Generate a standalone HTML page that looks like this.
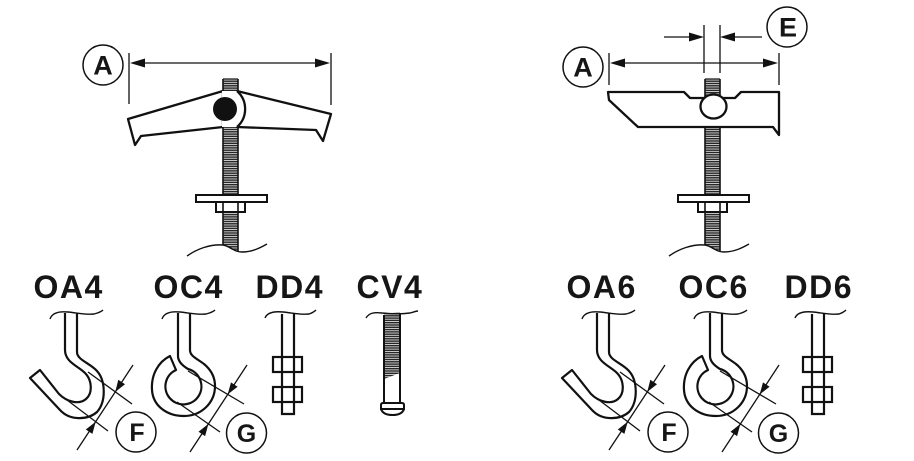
<!DOCTYPE html>
<html>
<head>
<meta charset="utf-8">
<style>
  html, body { margin:0; padding:0; background:#fff; }
  body { width:914px; height:461px; overflow:hidden; }
  svg { display:block; }
  .lbl { font-family:"Liberation Sans", Arial, sans-serif; font-weight:bold; font-size:32px; fill:#161616; letter-spacing:1.5px; }
  .cl { font-family:"Liberation Sans", Arial, sans-serif; font-weight:bold; font-size:27px; fill:#161616; }
  .cs { font-family:"Liberation Sans", Arial, sans-serif; font-weight:bold; font-size:25px; fill:#161616; }
</style>
</head>
<body>
<svg width="914" height="461" viewBox="0 0 914 461" xmlns="http://www.w3.org/2000/svg">
  <defs>
    <pattern id="th" width="6" height="2.3" patternUnits="userSpaceOnUse">
      <rect width="6" height="2.3" fill="#d8d8d8"/>
      <rect width="6" height="1.4" fill="#262626"/>
    </pattern>
  </defs>
  <rect width="914" height="461" fill="#fff"/>

  <!-- ================= LEFT TOGGLE ================= -->
  <!-- dimension A -->
  <g stroke="#111" stroke-width="1.3" fill="none">
    <line x1="129" y1="53" x2="129" y2="104"/>
    <line x1="331" y1="53" x2="331" y2="105"/>
    <line x1="140" y1="63" x2="320" y2="63"/>
  </g>
  <polygon points="130,63 145,58.5 145,67.5" fill="#111"/>
  <polygon points="330,63 315,58.5 315,67.5" fill="#111"/>
  <circle cx="103" cy="65" r="20" fill="#fff" stroke="#111" stroke-width="1.5"/>
  <text class="cl" x="103" y="74.5" text-anchor="middle">A</text>

  <!-- bolt assembly (reused for right toggle) -->
  <g id="boltL">
    <path d="M223,79 L238,79 L238,252 C233,251 228,247 223,245 Z" fill="url(#th)"/>
    <line x1="223" y1="79" x2="223" y2="245" stroke="#111" stroke-width="1.6"/>
    <line x1="238" y1="79" x2="238" y2="252" stroke="#111" stroke-width="1.6"/>
    <line x1="223" y1="79" x2="238" y2="79" stroke="#111" stroke-width="1.2"/>
    <!-- washer -->
    <rect x="196" y="195" width="71" height="7" fill="#fff" stroke="#111" stroke-width="2"/>
    <!-- nut -->
    <rect x="216" y="202" width="29" height="10" fill="#fff" stroke="#111" stroke-width="2"/>
    <line x1="223" y1="202" x2="223" y2="212" stroke="#111" stroke-width="1.6"/>
    <line x1="238" y1="202" x2="238" y2="212" stroke="#111" stroke-width="1.6"/>
    <!-- break wave -->
    <path d="M187,256 C197,249 210,244 223,245 C230,246 234,252 242,252 C252,252 260,248 267,244" fill="none" stroke="#111" stroke-width="1.4"/>
  </g>

  <!-- wings -->
  <path d="M223,91 L128,119 L135,145 L141,136 L223,127 Z" fill="#fff" stroke="#111" stroke-width="2.3" stroke-linejoin="round"/>
  <path d="M237,91 L331,114 L323,141 L316,130 L237,127 Z" fill="#fff" stroke="#111" stroke-width="2.3" stroke-linejoin="round"/>
  <!-- hub -->
  <path d="M222,91 L237,91 A24,24 0 0 1 237,127 L222,127 Z" fill="#fff"/>
  <path d="M237,91 A24,24 0 0 1 237,127" fill="none" stroke="#111" stroke-width="2.3"/>
  <circle cx="225" cy="109" r="12" fill="#111"/>

  <!-- ================= RIGHT TOGGLE ================= -->
  <!-- dimension A -->
  <g stroke="#111" stroke-width="1.3" fill="none">
    <line x1="609" y1="53" x2="609" y2="85"/>
    <line x1="779" y1="53" x2="779" y2="85"/>
    <line x1="620" y1="63" x2="768" y2="63"/>
    <!-- dimension E -->
    <line x1="704" y1="25" x2="704" y2="73"/>
    <line x1="720" y1="25" x2="720" y2="73"/>
    <line x1="664" y1="37" x2="692" y2="37"/>
    <line x1="732" y1="37" x2="762" y2="37"/>
  </g>
  <polygon points="610,63 625,58.5 625,67.5" fill="#111"/>
  <polygon points="778,63 763,58.5 763,67.5" fill="#111"/>
  <polygon points="704,37 689,32.5 689,41.5" fill="#111"/>
  <polygon points="720,37 735,32.5 735,41.5" fill="#111"/>
  <circle cx="583" cy="67" r="20" fill="#fff" stroke="#111" stroke-width="1.5"/>
  <text class="cl" x="583" y="76.5" text-anchor="middle">A</text>
  <circle cx="787" cy="27" r="20" fill="#fff" stroke="#111" stroke-width="1.5"/>
  <text class="cl" x="788" y="36.5" text-anchor="middle">E</text>

  <use href="#boltL" transform="translate(482,0)"/>

  <!-- channel -->
  <path d="M608,92 L684,92 L690,98 L735,98 L741,92 L779,92 L779,135 L773,127 L638,127 L609,100 Z" fill="#fff" stroke="#111" stroke-width="2.3" stroke-linejoin="round"/>
  <ellipse cx="713.5" cy="106.5" rx="13" ry="12" fill="#fff" stroke="#111" stroke-width="2.3"/>

  <!-- ================= LABELS ================= -->
  <text class="lbl" x="33.5" y="298">OA4</text>
  <text class="lbl" x="153.5" y="298">OC4</text>
  <text class="lbl" x="255.5" y="298">DD4</text>
  <text class="lbl" x="356.5" y="298">CV4</text>
  <text class="lbl" x="566.5" y="298">OA6</text>
  <text class="lbl" x="678.5" y="298">OC6</text>
  <text class="lbl" x="784.5" y="298">DD6</text>

  <!-- ================= OA HOOK ================= -->
  <g id="oa">
    <path d="M50,319 C52,313 58,311 68,312 C78,313 86,315 94,314 C98,313 101,312 103,310" fill="none" stroke="#111" stroke-width="1.4"/>
    <path d="M65,313 L65,350 C65,362 78,366 85,373 C92,380 93,393 86,399 C79,405 67,402 59,394 L40,370 L30,378 L60,410 C70,421 88,420 97,412 C106,402 106,381 97,371 C90,363 77,360 77,352 L77,313" fill="none" stroke="#111" stroke-width="2.2" stroke-linejoin="round"/>
    <g stroke="#111" stroke-width="1.3" fill="none">
      <line x1="88" y1="372" x2="132" y2="404"/>
      <line x1="67" y1="400" x2="108" y2="431"/>
      <line x1="133" y1="365" x2="77" y2="450"/>
    </g>
    <polygon points="115.3,391.9 125,384.3 118.3,379.8" fill="#111"/>
    <polygon points="95.7,421.7 92.4,433.9 85.8,429.5" fill="#111"/>
    <circle cx="136" cy="432" r="20" fill="#fff" stroke="#111" stroke-width="1.5"/>
    <text class="cs" x="137" y="441" text-anchor="middle">F</text>
  </g>

  <!-- ================= OC HOOK ================= -->
  <g id="oc">
    <path d="M162,319 C164,313 170,311 180,312 C190,313 198,315 206,314 C210,313 213,312 215,310" fill="none" stroke="#111" stroke-width="1.4"/>
    <path d="M178,313 L178,356 C178,362 183,366 188,369 A18,18 0 1 1 176,370 L170,356 C158,362 151,375 152,390 C153,406 167,416 184,416 C201,416 215,403 215,386 C215,376 210,369 204,364 C196,358 190,356 190,350 L190,313" fill="none" stroke="#111" stroke-width="2.2" stroke-linejoin="round"/>
    <g stroke="#111" stroke-width="1.3" fill="none">
      <line x1="188" y1="371" x2="244" y2="404"/>
      <line x1="177" y1="402" x2="220" y2="432"/>
      <line x1="247" y1="365" x2="190" y2="452"/>
    </g>
    <polygon points="227.7,394.4 237.6,386.8 231,382.4" fill="#111"/>
    <polygon points="208.4,423.9 205.1,436.1 198.5,431.7" fill="#111"/>
    <circle cx="246.5" cy="433" r="20" fill="#fff" stroke="#111" stroke-width="1.5"/>
    <text class="cs" x="246.5" y="442" text-anchor="middle">G</text>
  </g>

  <!-- ================= DD ================= -->
  <g id="dd">
    <path d="M265,318 C267,313 273,311 283,312 C293,313 301,315 309,314 C312,313 314,312 316,310" fill="none" stroke="#111" stroke-width="1.4"/>
    <path d="M282,314 L282,414 L294,414 L294,313" fill="none" stroke="#111" stroke-width="2.2" stroke-linejoin="miter"/>
    <rect x="273" y="357" width="29" height="15" fill="none" stroke="#111" stroke-width="2.2"/>
    <rect x="273" y="387" width="29" height="15" fill="none" stroke="#111" stroke-width="2.2"/>
  </g>

  <!-- ================= CV4 ================= -->
  <path d="M384,314 L400,312 L400,373 L384,379 Z" fill="url(#th)"/>
  <path d="M366,318 C369,313 374,312 382,313 C392,314 402,314 410,313 C414,312 416,311 418,311" fill="none" stroke="#111" stroke-width="1.4"/>
  <line x1="384" y1="315" x2="384" y2="403" stroke="#111" stroke-width="2"/>
  <line x1="400" y1="313" x2="400" y2="403" stroke="#111" stroke-width="2"/>
  <path d="M381,409 L381,405 Q381,403 383,403 L402,403 Q404,403 404,405 L404,409 Z" fill="#fff" stroke="#111" stroke-width="2"/>
  <path d="M381,409 Q383,415 392.5,415 Q402,415 404,409" fill="none" stroke="#111" stroke-width="2"/>

  <!-- ================= RIGHT SET ================= -->
  <use href="#oa" transform="translate(532,0)"/>
  <use href="#oc" transform="translate(532,0)"/>
  <use href="#dd" transform="translate(530,0)"/>
</svg>
</body>
</html>
